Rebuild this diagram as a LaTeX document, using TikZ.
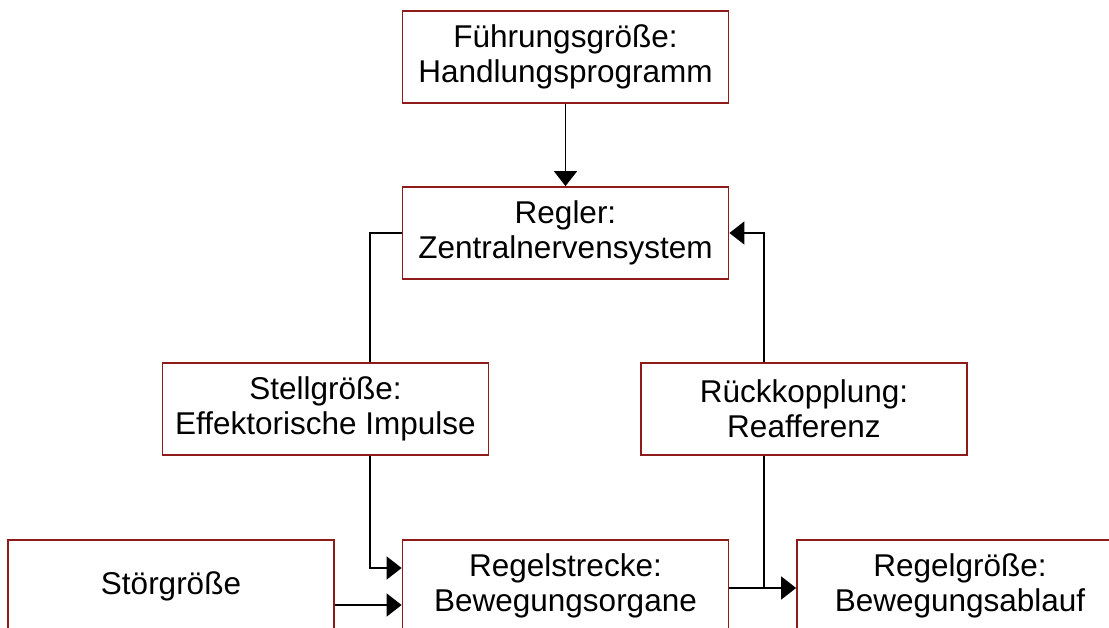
\documentclass[tikz,border=0pt]{standalone}
\usepackage{fontspec}
\setmainfont{Liberation Sans}
\usetikzlibrary{arrows.meta,calc}
\definecolor{boxred}{HTML}{8E1A1A}
\begin{document}
\begin{tikzpicture}[x=1pt,y=-1pt,
  block/.style={draw=boxred,line width=1.8pt,fill=white,minimum width=326pt,minimum height=92pt,
    inner sep=0pt,align=center,font=\fontsize{31.5}{35}\selectfont},
  link/.style={line width=1.8pt,black},
  arr/.style={link,-{Triangle[length=15pt,width=23pt]}}]
\useasboundingbox (0,0) rectangle (1109,628);
\begin{scope}
\clip (0,0) rectangle (1109,628);
\node[block] (fg) at (565.5,57) {Führungsgröße:\\Handlungsprogramm};
\node[block] (reg) at (565.5,233) {Regler:\\Zentralnervensystem};
\node[block] (stell) at (325.5,409) {Stellgröße:\\Effektorische Impulse};
\node[block] (rueck) at (804,409) {Rückkopplung:\\Reafferenz};
\node[block] (stoer) at (171,586) {Störgröße};
\node[block] (strecke) at (565.5,586) {Regelstrecke:\\Bewegungsorgane};
\node[block] (groesse) at (960,586) {Regelgröße:\\Bewegungsablauf};

% command path
\draw[arr] (fg.south) -- (reg.north);
\draw[link] (reg.west) -| ([xshift=44.5pt]stell.north);
\draw[arr] ([xshift=44.5pt]stell.south) |- ([yshift=18pt]strecke.west);
\draw[arr] ([yshift=-19pt]stoer.east) -- ([yshift=-19pt]strecke.west);
\draw[arr] ([yshift=-2pt]strecke.east) -- ([yshift=-2pt]groesse.west);

% feedback path
\coordinate (tap) at ($([yshift=-2pt]strecke.east)!0.52!([yshift=-2pt]groesse.west)$);
\draw[link] (tap) -- (tap |- rueck.south);
\draw[arr] (tap |- rueck.north) |- (reg.east);
\end{scope}
\end{tikzpicture}
\end{document}
